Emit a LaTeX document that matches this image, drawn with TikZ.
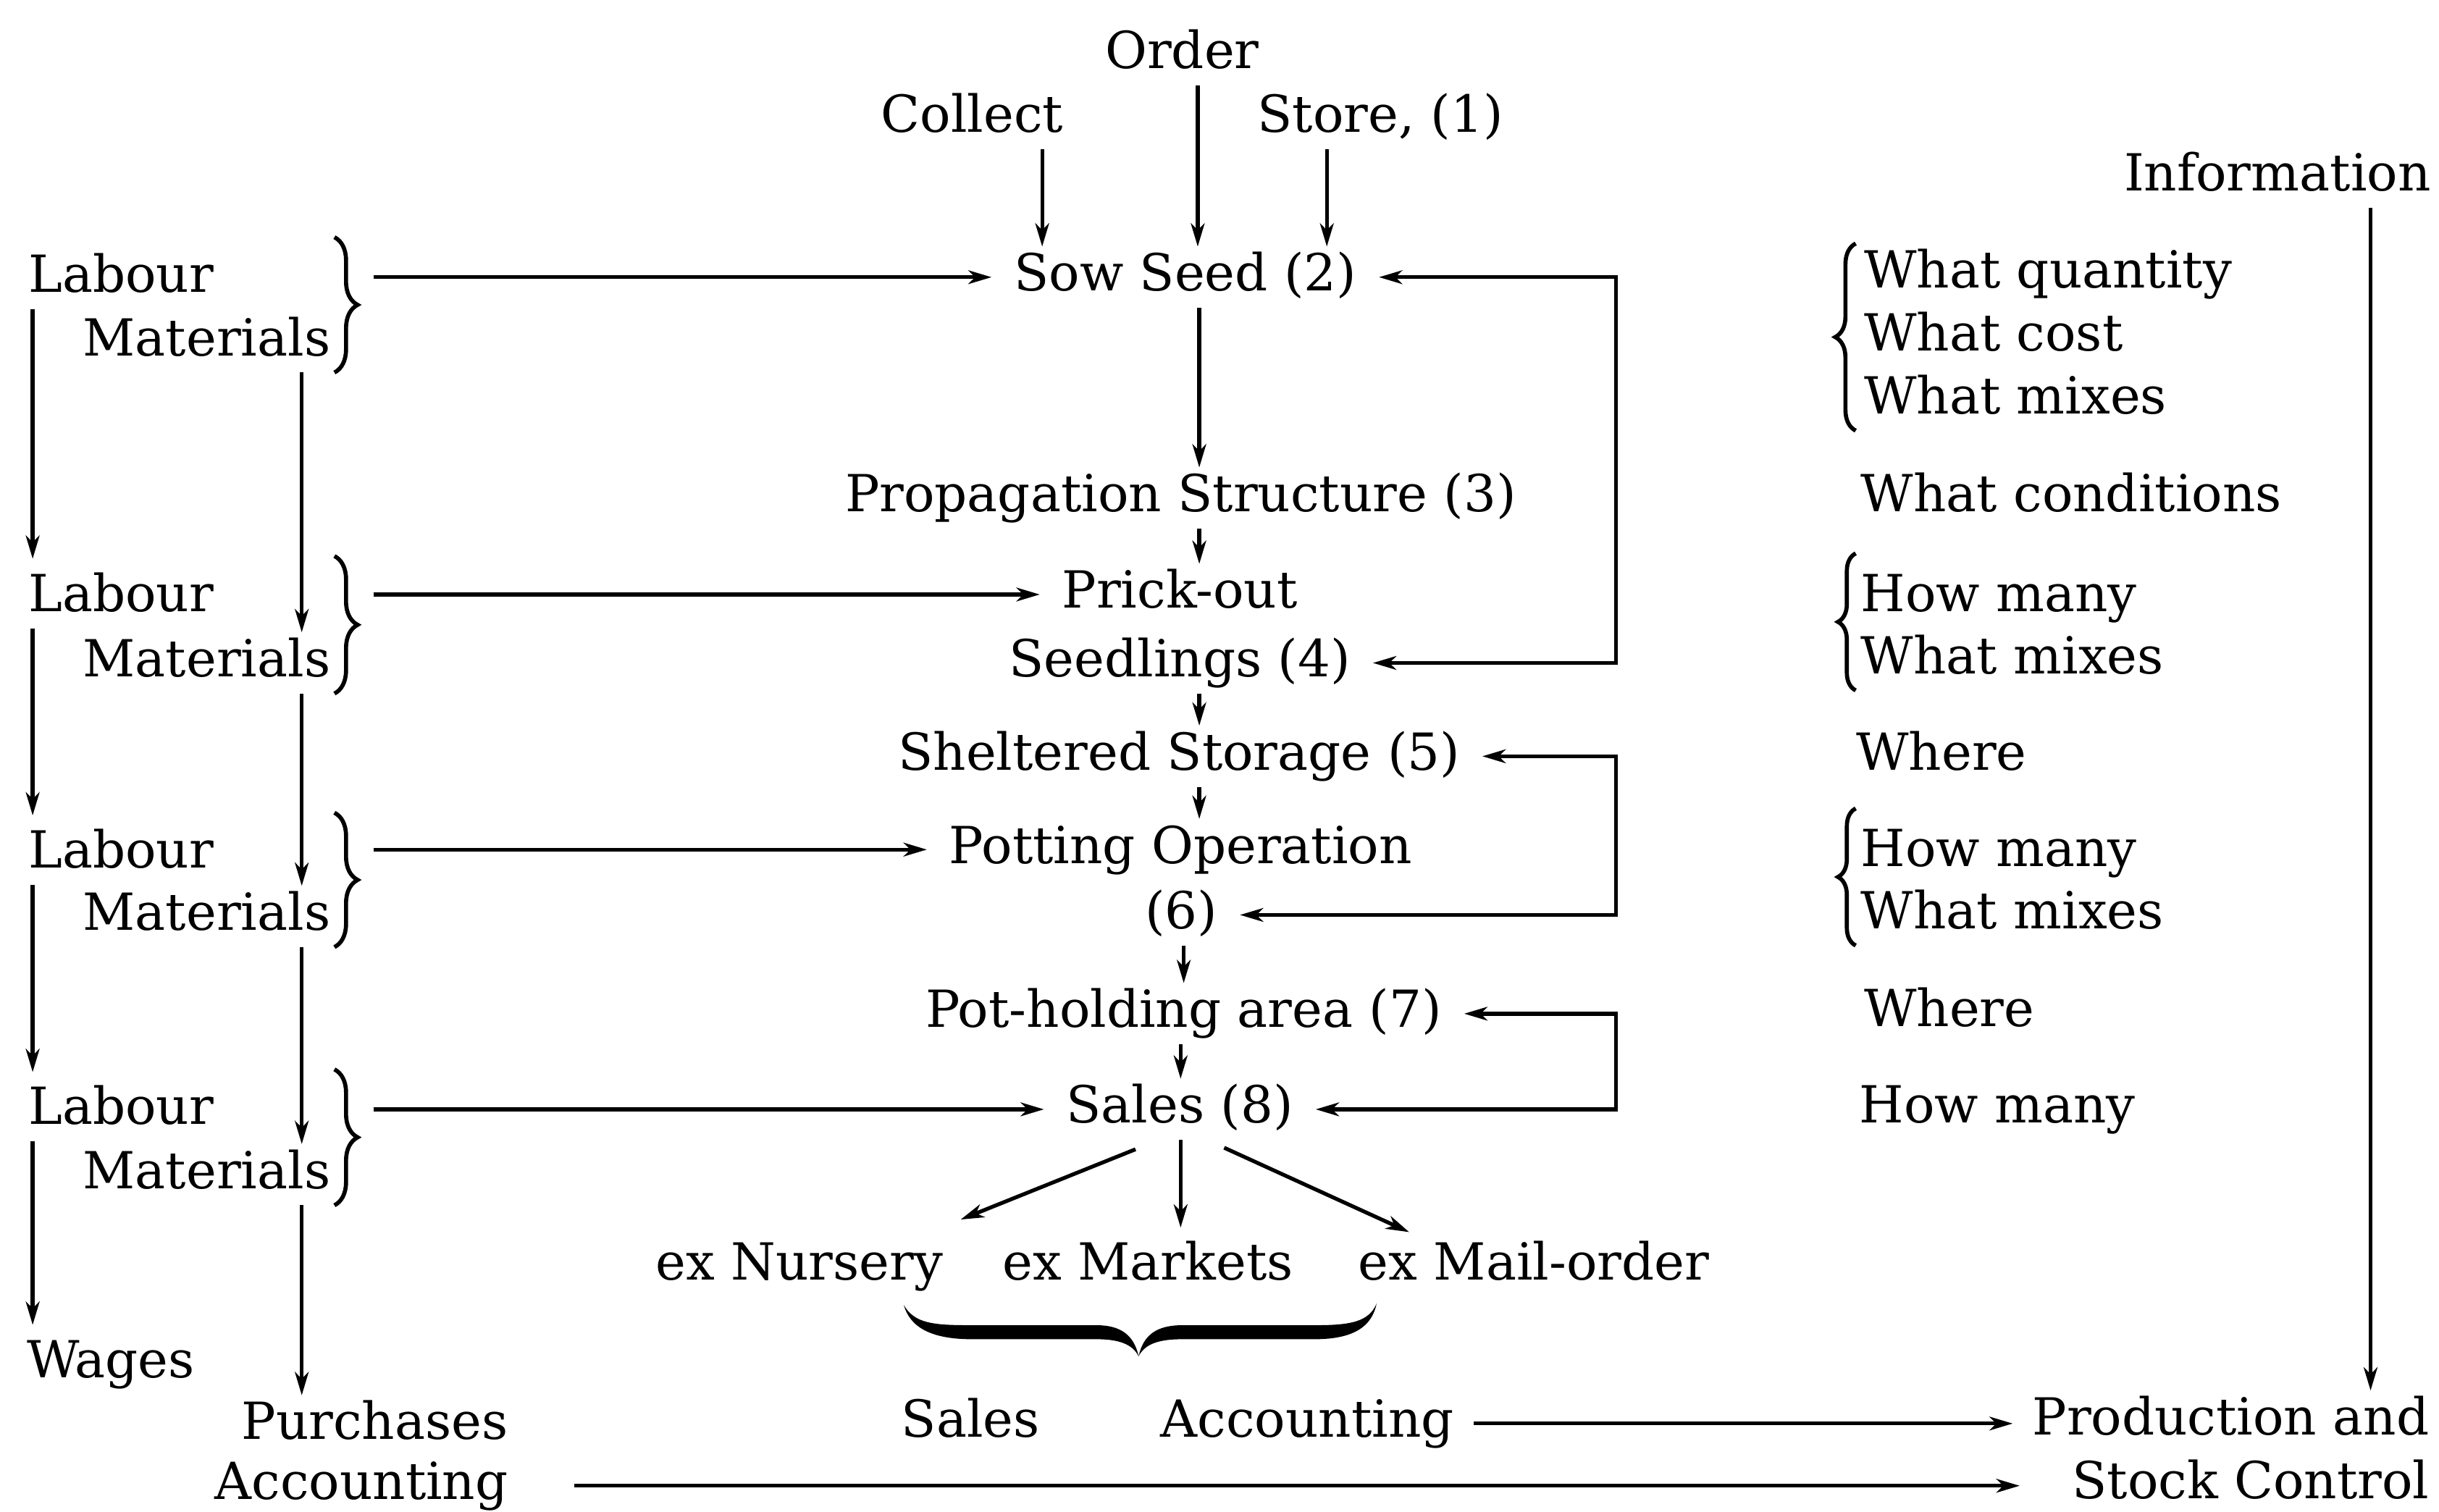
\documentclass[tikz,border=0pt]{standalone}
\usepackage{fontspec}
\setmainfont{DejaVu Serif}
\usetikzlibrary{arrows.meta,calc,decorations.pathreplacing}
\begin{document}
\begin{tikzpicture}[x=0.02cm,y=-0.02cm,
  font={\fontsize{18.7}{22}\selectfont},
  txt/.style={inner xsep=0pt,inner ysep=2pt,text height=14pt,text depth=4pt},
  proc/.style={txt,inner xsep=8pt},
  arr/.style={line width=1.4pt,-{Stealth[length=8.5pt,width=5pt,inset=2.5pt]}},
  arrboth/.style={line width=1.4pt,line join=miter,{Stealth[length=8.5pt,width=5pt,inset=2.5pt]}-{Stealth[length=8.5pt,width=5pt,inset=2.5pt]}},
  brc/.style={decorate,decoration={brace,amplitude=#1},line width=1.5pt},
]
\useasboundingbox (0,0) rectangle (1568,972);

% column coordinates
\coordinate (cx1) at (670,0);
\coordinate (cx2) at (770,0);
\coordinate (cx3) at (853,0);
\coordinate (vA) at (771,0);
\coordinate (vB) at (761,0);
\coordinate (vC) at (759,0);
\coordinate (rx) at (1039,0);
\coordinate (bx) at (240,0);
\coordinate (lbx) at (215,0);
\coordinate (rbx) at (1193,0);
\coordinate (lx) at (21,0);
\coordinate (mx) at (194,0);
\coordinate (ix) at (1524,0);

% top
\node[txt,anchor=base] (order) at (760,44) {Order};
\node[txt,anchor=base] (collect) at (625,85) {Collect};
\node[txt,anchor=base west] (store) at (808,85) {Store, (1)};
\node[txt,anchor=base east] (info) at (1563,122.5) {Information};

% central flow
\node[proc,anchor=base] (sow) at (762,187) {Sow Seed (2)};
\node[proc,anchor=base] (prop) at (759,329) {Propagation Structure (3)};
\node[proc,anchor=base] (prick) at (758.5,391) {Prick-out};
\node[proc,anchor=base] (seed) at (758.5,435) {Seedlings (4)};
\node[proc,anchor=base] (shel) at (758,495) {Sheltered Storage (5)};
\node[proc,anchor=base] (pot) at (759,555) {Potting Operation};
\node[proc,anchor=base] (six) at (759.5,597) {(6)};
\node[proc,anchor=base] (hold) at (761,660.5) {Pot-holding area (7)};
\node[proc,anchor=base] (sales) at (758.5,722) {Sales (8)};
\node[txt,anchor=base] (nurs) at (514,823) {ex Nursery};
\node[txt,anchor=base] (mark) at (738,823) {ex Markets};
\node[txt,anchor=base] (mail) at (986,823) {ex Mail-order};

% bottom
\node[txt,anchor=base] (ssales) at (624,924) {Sales};
\node[txt,anchor=base] (sacc) at (840.5,924) {Accounting};
\node[txt,anchor=base east] (prod) at (1562,922.5) {Production and};
\node[txt,anchor=base east] (stock) at (1562,963.5) {Stock Control};
\node[txt,anchor=base east] (purch) at (327,925.5) {Purchases};
\node[txt,anchor=base east] (pacc) at (327,964) {Accounting};
\node[txt,anchor=base west] (wages) at (17,885.5) {Wages};

% left column
\node[txt,anchor=base west] (lab1) at (18,188) {Labour};
\node[txt,anchor=base west] (mat1) at (53,228.6) {Materials};
\node[txt,anchor=base west] (lab2) at (18,393) {Labour};
\node[txt,anchor=base west] (mat2) at (53,435) {Materials};
\node[txt,anchor=base west] (lab3) at (18,558) {Labour};
\node[txt,anchor=base west] (mat3) at (53,598) {Materials};
\node[txt,anchor=base west] (lab4) at (18,723) {Labour};
\node[txt,anchor=base west] (mat4) at (53,764) {Materials};

% right column
\node[txt,anchor=base west] (q1) at (1198,185) {What quantity};
\node[txt,anchor=base west] (q2) at (1198,225.5) {What cost};
\node[txt,anchor=base west] (q3) at (1198,266) {What mixes};
\node[txt,anchor=base west] (cond) at (1196,329) {What conditions};
\node[txt,anchor=base west] (hm1) at (1196,393) {How many};
\node[txt,anchor=base west] (wm1) at (1196,433) {What mixes};
\node[txt,anchor=base west] (wh1) at (1193,495) {Where};
\node[txt,anchor=base west] (hm2) at (1196,557) {How many};
\node[txt,anchor=base west] (wm2) at (1196,597) {What mixes};
\node[txt,anchor=base west] (wh2) at (1198,660) {Where};
\node[txt,anchor=base west] (hm3) at (1195,722) {How many};

% top arrows
\draw[arr] (collect.south -| cx1) -- (sow.north -| cx1);
\draw[arr] (order.south -| cx2) -- (sow.north -| cx2);
\draw[arr] (store.south -| cx3) -- (sow.north -| cx3);

% central vertical arrows
\draw[arr] (sow.south -| vA) -- (prop.north -| vA);
\draw[arr] (prop.south -| vA) -- (prick.north -| vA);
\draw[arr] (seed.south -| vA) -- (shel.north -| vA);
\draw[arr] (shel.south -| vA) -- (pot.north -| vA);
\draw[arr] (six.south -| vB) -- (hold.north -| vB);
\draw[arr] (hold.south -| vC) -- (sales.north -| vC);

% fan from sales
\draw[arr] ($(sales.south)+(-28.5,6)$) -- ($(nurs.north east)+(11,-10.5)$);
\draw[arr,shorten >=3pt] (sales.south -| vC) -- (mark.north -| vC);
\draw[arr] ($(sales.south)+(28.5,5)$) -- ($(mail.north west)+(33,-2.4)$);

% feedback loops
\draw[arrboth] (sow.east) -- (sow.east -| rx) -- (seed.east -| rx) -- (seed.east);
\draw[arrboth] (shel.east) -- (shel.east -| rx) -- (six.east -| rx) -- (six.east);
\draw[arrboth] (hold.east) -- (hold.east -| rx) -- (sales.east -| rx) -- (sales.east);

% labour/material braces and arrows
\draw[brc=8.5pt] ([yshift=4pt]lab1.north -| lbx) -- (mat1.south -| lbx);
\draw[brc=8.5pt] ([yshift=4pt]lab2.north -| lbx) -- (mat2.south -| lbx);
\draw[brc=8.5pt] ([yshift=4pt]lab3.north -| lbx) -- (mat3.south -| lbx);
\draw[brc=8.5pt] ([yshift=4pt]lab4.north -| lbx) -- (mat4.south -| lbx);
\draw[arr] (sow.west -| bx) -- (sow.west);
\draw[arr] (prick.west -| bx) -- (prick.west);
\draw[arr] (pot.west -| bx) -- (pot.west);
\draw[arr] (sales.west -| bx) -- (sales.west);

% left chains
\draw[arr,shorten >=3pt] (lab1.south -| lx) -- (lab2.north -| lx);
\draw[arr,shorten >=3pt] (lab2.south -| lx) -- (lab3.north -| lx);
\draw[arr,shorten >=3pt] (lab3.south -| lx) -- (lab4.north -| lx);
\draw[arr,shorten >=3pt] (lab4.south -| lx) -- (wages.north -| lx);
\draw[arr] (mat1.south -| mx) -- (mat2.north -| mx);
\draw[arr] (mat2.south -| mx) -- (mat3.north -| mx);
\draw[arr] (mat3.south -| mx) -- (mat4.north -| mx);
\draw[arr] (mat4.south -| mx) -- (purch.north -| mx);

% right braces
\draw[brc=7.5pt] (q3.south -| rbx) -- (q1.north -| rbx);
\draw[brc=6.5pt] (wm1.south -| rbx) -- ([yshift=5pt]hm1.north -| rbx);
\draw[brc=6.5pt] (wm2.south -| rbx) -- ([yshift=5pt]hm2.north -| rbx);

% information
\draw[arr] (info.south -| ix) -- (prod.north -| ix);

% bottom arrows
\draw[arr,shorten <=7pt,shorten >=7pt] (sacc.east) -- (sacc.east -| prod.west);
\draw[arr,shorten <=24pt,shorten >=19pt] (pacc.east) -- (pacc.east -| stock.west);

% under-brace
\fill (581,839) .. controls (588,851) and (600,852) .. (625,852) -- (705,852)
  .. controls (720,852) and (729,858) .. (732,872)
  .. controls (735,858) and (744,852) .. (760,852) -- (845,852)
  .. controls (868,852) and (880,850) .. (885,838)
  .. controls (882,853) and (870,861) .. (845,861) -- (760,861)
  .. controls (745,861) and (736,864) .. (732,872)
  .. controls (728,864) and (719,861) .. (705,861) -- (625,861)
  .. controls (598,861) and (585,853) .. (581,839) -- cycle;
\end{tikzpicture}
\end{document}
